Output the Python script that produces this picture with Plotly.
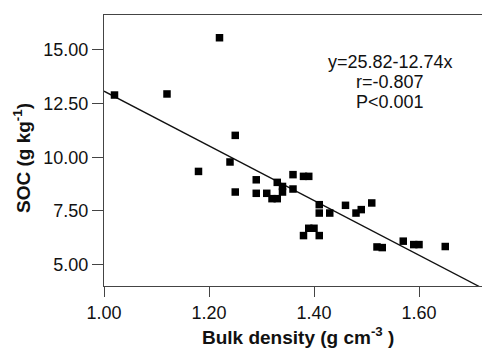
import plotly.graph_objects as go

bulk_density = [1.02, 1.12, 1.22, 1.18, 1.24, 1.25, 1.25, 1.29, 1.29, 1.31, 1.32, 1.33,
                1.33, 1.34, 1.34, 1.36, 1.36, 1.38, 1.39, 1.38, 1.39, 1.40, 1.41, 1.41,
                1.41, 1.43, 1.46, 1.48, 1.49, 1.51, 1.52, 1.53, 1.57, 1.59, 1.60, 1.65]
soc = [12.90, 12.95, 15.57, 9.34, 9.78, 11.02, 8.38, 8.95, 8.32, 8.32, 8.07, 8.07,
       8.83, 8.64, 8.38, 9.19, 8.52, 9.11, 9.11, 6.35, 6.69, 6.69, 6.35, 7.79,
       7.40, 7.40, 7.76, 7.40, 7.56, 7.87, 5.82, 5.79, 6.09, 5.93, 5.93, 5.84]

intercept = 25.82
slope = -12.74
x_range = [1.0, 1.72]
y_range = [4.0, 16.63]
x_ticks = [1.0, 1.2, 1.4, 1.6]
x_ticklabels = ["1.00", "1.20", "1.40", "1.60"]
y_ticks = [5.0, 7.5, 10.0, 12.5, 15.0]
y_ticklabels = ["5.00", "7.50", "10.00", "12.50", "15.00"]
stat_lines = ["y=25.82-12.74x", "r=-0.807", "P<0.001"]
x_title = "<b>Bulk density (g cm<sup>-3</sup> )</b>"
y_title = "<b>SOC (g kg<sup>-1</sup>)</b>"

fit_x = x_range
fit_y = [intercept + slope * v for v in fit_x]

font_family = "Liberation Sans, Arial, sans-serif"

W, H = 482, 349
L, R, T, B = 104, 0, 15, 63
pw, ph = W - L - R, H - T - B


def px_x(p):
    return (p - L) / pw


def px_y(p):
    return (H - B - p) / ph


fig = go.Figure()
fig.add_trace(go.Scatter(x=fit_x, y=fit_y, mode="lines",
                         line=dict(color="#111111", width=1.3), showlegend=False))
fig.add_trace(go.Scatter(x=bulk_density, y=soc, mode="markers",
                         marker=dict(symbol="square", size=7.5, color="#000000",
                                     line=dict(width=0)),
                         showlegend=False))

for i, txt in enumerate(stat_lines):
    fig.add_annotation(x=px_x(390), y=px_y(62.5 + i * 19.5), xref="paper", yref="paper",
                       text=txt, showarrow=False, xanchor="center", yanchor="middle",
                       font=dict(family=font_family, size=18, color="#111111"))

fig.add_annotation(x=px_x(298), y=px_y(336), xref="paper", yref="paper", text=x_title,
                   showarrow=False, xanchor="center", yanchor="middle",
                   font=dict(family=font_family, size=19, color="#111111"))
fig.add_annotation(x=px_x(22), y=px_y(158), xref="paper", yref="paper", text=y_title,
                   showarrow=False, xanchor="center", yanchor="middle", textangle=-90,
                   font=dict(family=font_family, size=19, color="#111111"))

fig.update_layout(
    width=W, height=H,
    margin=dict(l=L, r=R, t=T, b=B, autoexpand=False),
    plot_bgcolor="white", paper_bgcolor="white",
    font=dict(family=font_family, size=18, color="#111111"),
    xaxis=dict(range=x_range, tickvals=x_ticks, ticktext=x_ticklabels,
               showline=True, mirror=True, linecolor="#444444", linewidth=1.3,
               ticks="outside", ticklen=10, tickcolor="#444444", tickwidth=1.3,
               showgrid=False, zeroline=False, automargin=False),
    yaxis=dict(range=y_range, tickvals=y_ticks, ticktext=y_ticklabels,
               showline=True, mirror=False, linecolor="#444444", linewidth=1.3,
               ticks="outside", ticklen=11, tickcolor="#444444", tickwidth=1.3,
               showgrid=False, zeroline=False, automargin=False),
)

fig.write_html("out.html", config={"displayModeBar": False},
               post_script="document.body.style.margin='0';document.body.style.overflow='hidden';")
